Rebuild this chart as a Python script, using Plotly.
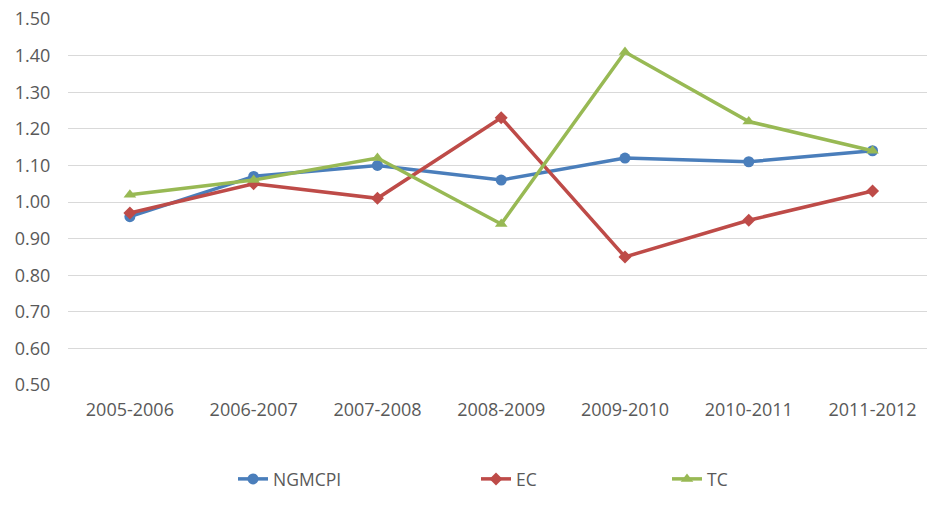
import plotly.graph_objects as go

categories = ["2005-2006", "2006-2007", "2007-2008", "2008-2009", "2009-2010", "2010-2011", "2011-2012"]
ngmcpi = [0.96, 1.07, 1.10, 1.06, 1.12, 1.11, 1.14]
ec = [0.97, 1.05, 1.01, 1.23, 0.85, 0.95, 1.03]
tc = [1.02, 1.06, 1.12, 0.94, 1.41, 1.22, 1.14]
y_ticks = [0.5, 0.6, 0.7, 0.8, 0.9, 1.0, 1.1, 1.2, 1.3, 1.4, 1.5]

W, H = 927, 505
ML, MR, MT, MB = 68, 0, 19, 120
PW = W - ML - MR
PH = H - MT - MB

def px_to_paper_x(px):
    return (px - ML) / PW

def px_to_paper_y(py):
    return (H - MB - py) / PH

FONT = "Open Sans"
TXT = "#595959"

fig = go.Figure()
series = [
    ("NGMCPI", ngmcpi, "#4A7EBB", "circle", 11, "legend"),
    ("EC", ec, "#BE4B48", "diamond", 10, "legend2"),
    ("TC", tc, "#98B954", "triangle-up", 11, "legend3"),
]
for name, vals, color, sym, msize, lg in series:
    fig.add_trace(go.Scatter(
        x=categories, y=vals, name=name, mode="lines+markers",
        line=dict(color=color, width=3.5),
        marker=dict(symbol=sym, size=msize, color=color),
        legend=lg,
    ))

legend_common = dict(orientation="h", yanchor="middle", xanchor="left",
                     font=dict(family=FONT, size=17.5, color=TXT),
                     bgcolor="rgba(0,0,0,0)", borderwidth=0)
ly = px_to_paper_y(479)
fig.update_layout(
    width=W, height=H,
    margin=dict(l=ML, r=MR, t=MT, b=MB, autoexpand=False),
    paper_bgcolor="white", plot_bgcolor="white",
    showlegend=True,
    legend=dict(x=px_to_paper_x(233), y=ly, **legend_common),
    legend2=dict(x=px_to_paper_x(476), y=ly, **legend_common),
    legend3=dict(x=px_to_paper_x(667), y=ly, **legend_common),
    xaxis=dict(
        type="category", range=[-0.5, 6.44], showgrid=False, zeroline=False,
        showline=False, ticks="outside", ticklen=8, tickcolor="rgba(0,0,0,0)",
        tickfont=dict(family=FONT, size=18, color=TXT), fixedrange=True,
    ),
    yaxis=dict(
        range=[0.5, 1.5], tickvals=y_ticks, ticktext=[f"{v:.2f}" for v in y_ticks],
        showgrid=True, gridcolor="#D9D9D9", gridwidth=1, zeroline=False,
        showline=False, ticks="outside", ticklen=13, tickcolor="rgba(0,0,0,0)",
        tickfont=dict(family=FONT, size=18, color=TXT), fixedrange=True,
    ),
)
fig.write_html("out.html")
